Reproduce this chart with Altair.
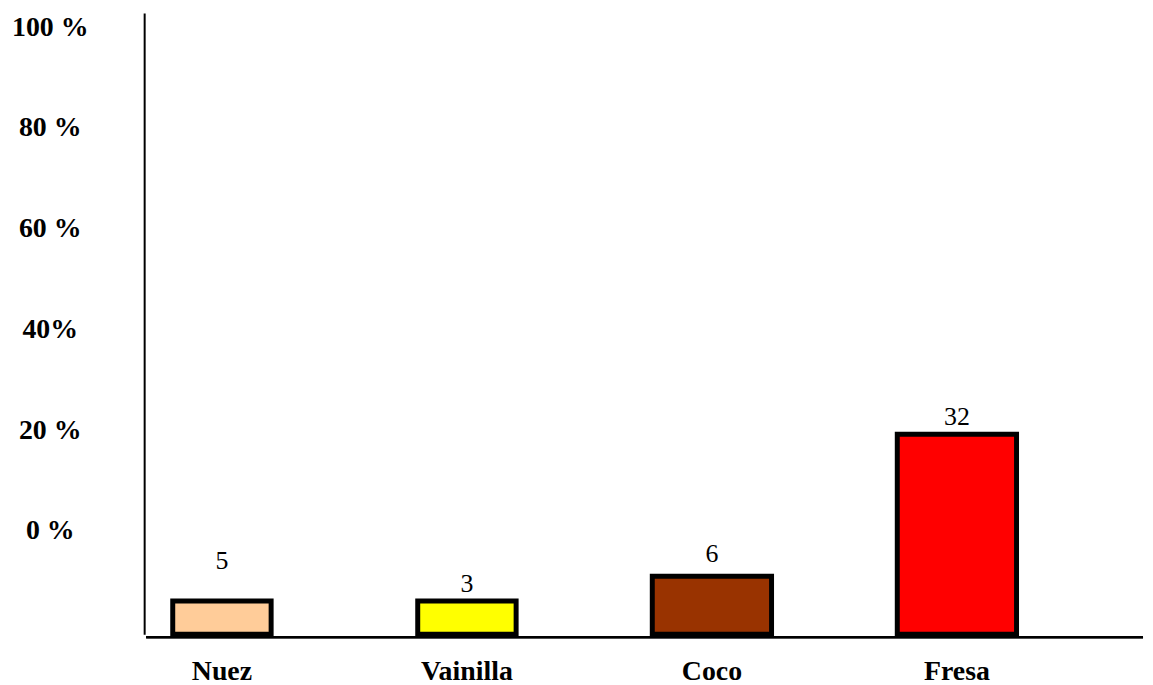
import json
import altair as alt
import pandas as pd

# ---- data ----
flavors = ["Nuez", "Vainilla", "Coco", "Fresa"]
counts = [5, 3, 6, 32]                      # numbers printed above the bars
levels = [-13.9, -13.9, -9.0, 19.2]         # bar tops read on the printed % axis
colors = ["#FFCC99", "#FFFF00", "#993300", "#FF0000"]
tick_values = [0, 20, 40, 60, 80, 100]
tick_labels = ["0 %", "20 %", "40%", "60 %", "80 %", "100 %"]

Y_MIN, Y_MAX = -20.5, 102.8

df = pd.DataFrame({"flavor": flavors, "count": counts, "level": levels})

FONT = "Liberation Serif"

label_expr = "{}[indexof({}, datum.value)]".format(json.dumps(tick_labels), json.dumps(tick_values))

x_enc = alt.X(
    "flavor:N",
    sort=flavors,
    scale=alt.Scale(range=[-45, 941], paddingInner=0, paddingOuter=0),
    axis=alt.Axis(
        title=None, labelAngle=0, labelFont=FONT, labelFontSize=28, labelFontWeight="bold",
        labelColor="black", domain=False, ticks=False, tickSize=0,
        labelPadding=24, grid=False,
    ),
)
y_scale = alt.Scale(domain=[Y_MIN, Y_MAX], nice=False, zero=False)
y_enc = alt.Y(
    "level:Q",
    scale=y_scale,
    axis=alt.Axis(
        title=None, values=tick_values, labelExpr=label_expr, labelFont=FONT,
        labelFontSize=28, labelFontWeight="bold", labelColor="black",
        labelAlign="center", labelBaseline="middle", labelPadding=95,
        ticks=False, tickSize=0, grid=False, domainColor="black", domainWidth=2,
        labelFlush=False, labelOverlap=False,
    ),
)

bars = alt.Chart(df).mark_bar(stroke="black", strokeWidth=5).encode(
    x=x_enc,
    y=y_enc,
    y2=alt.datum(Y_MIN),
    color=alt.Color("flavor:N", scale=alt.Scale(domain=flavors, range=colors), legend=None),
    size=alt.condition(
        (alt.datum.flavor == "Nuez") | (alt.datum.flavor == "Vainilla"),
        alt.value(99), alt.value(120),
    ),
)

# horizontal base line (category axis line), drawn across the full plot width
base_line = alt.Chart(df).mark_rule(color="black", strokeWidth=2, yOffset=3).encode(
    x=alt.value(2),
    x2=alt.value(1005),
    y=alt.datum(Y_MIN),
)


def labels(names, dy):
    return alt.Chart(df).transform_filter(
        alt.FieldOneOfPredicate(field="flavor", oneOf=names)
    ).mark_text(font=FONT, fontSize=26, baseline="alphabetic", align="center", dy=dy, color="black").encode(
        x=alt.X("flavor:N", sort=flavors),
        y=alt.Y("level:Q"),
        text=alt.Text("count:Q"),
    )


chart = alt.layer(
    bars,
    base_line,
    labels(["Vainilla", "Fresa"], -9.5),
    labels(["Nuez"], -32),
    labels(["Coco"], -14.5),
).properties(
    width=1005,
    height=625,
    background="white",
    autosize=alt.AutoSizeParams(type="none"),
    padding={"left": 137, "top": 3, "right": 2, "bottom": 54},
).configure_view(stroke=None)

chart.save("out.html", embed_options={"renderer": "svg", "actions": False})
